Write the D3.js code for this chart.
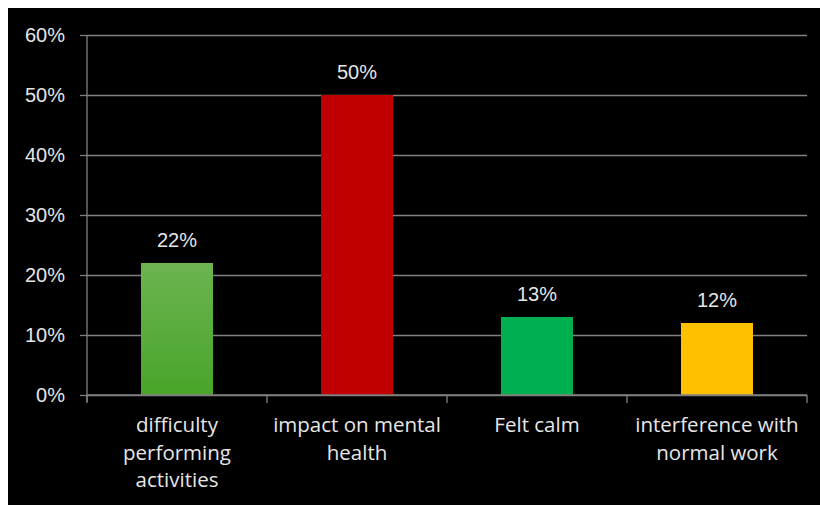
<!DOCTYPE html>
<html>
<head>
<meta charset="utf-8">
<script src="https://cdn.jsdelivr.net/npm/d3@7"></script>
<style>
  html, body { margin: 0; padding: 0; background: #ffffff; }
  svg { display: block; }
</style>
</head>
<body>
<svg id="chart" width="820" height="505"></svg>
<script>
// Survey results: share of respondents per reported effect
const categories = [
  "difficulty\nperforming\nactivities",
  "impact on mental\nhealth",
  "Felt calm",
  "interference with\nnormal work"
];
const values = [22, 50, 13, 12];
const barColors = ["url(#greenFade)", "#c00000", "#00b050", "#ffc000"];
const yTicks = [0, 10, 20, 30, 40, 50, 60];

const W = 820, H = 505;
const plot = { left: 87, right: 807, top: 35, bottom: 395 };
const textColor = "#e6e6e6";
const lineColor = "#808080";
const numFont = "'Liberation Sans', Arial, sans-serif";
const catFont = "'Open Sans', 'DejaVu Sans', sans-serif";

const svg = d3.select("#chart");

// dark panel
svg.append("rect").attr("x", 8).attr("y", 8).attr("width", W - 8).attr("height", H - 8).attr("fill", "#000");

const defs = svg.append("defs");
const grad = defs.append("linearGradient").attr("id", "greenFade")
  .attr("x1", 0).attr("y1", 0).attr("x2", 0).attr("y2", 1);
grad.append("stop").attr("offset", "0%").attr("stop-color", "#6cb451");
grad.append("stop").attr("offset", "100%").attr("stop-color", "#49a52a");

const x = d3.scaleBand().domain(categories).range([plot.left, plot.right]).paddingInner(0.6).paddingOuter(0.3);
const y = d3.scaleLinear().domain([0, 60]).range([plot.bottom, plot.top]);

// y axis with gridlines
const yAxis = svg.append("g").attr("transform", `translate(${plot.left},0)`)
  .call(d3.axisLeft(y).tickValues(yTicks).tickFormat(d => d + "%")
    .tickSize(-(plot.right - plot.left)).tickPadding(22));
yAxis.select(".domain").remove();
yAxis.selectAll(".tick line").attr("stroke", lineColor).attr("stroke-width", 1.3);
yAxis.selectAll(".tick").append("line")
  .attr("x1", -7).attr("x2", 0).attr("stroke", lineColor).attr("stroke-width", 1.3);
yAxis.selectAll("text").attr("fill", textColor).attr("font-family", numFont).attr("font-size", 20);

// vertical axis line
svg.append("line").attr("x1", plot.left).attr("x2", plot.left)
  .attr("y1", y(60)).attr("y2", plot.bottom + 7)
  .attr("stroke", lineColor).attr("stroke-width", 1.3);

// category boundary ticks on the x axis
const bounds = d3.range(categories.length + 1).map(i => plot.left + i * (plot.right - plot.left) / categories.length);
svg.append("g").selectAll("line").data(bounds).join("line")
  .attr("x1", d => d).attr("x2", d => d)
  .attr("y1", plot.bottom).attr("y2", plot.bottom + 8)
  .attr("stroke", lineColor).attr("stroke-width", 1.3);

// bars
svg.append("g").selectAll("rect").data(values).join("rect")
  .attr("x", (d, i) => x(categories[i]))
  .attr("width", x.bandwidth())
  .attr("y", d => y(d))
  .attr("height", d => y(0) - y(d))
  .attr("fill", (d, i) => barColors[i]);

// value labels
svg.append("g").selectAll("text").data(values).join("text")
  .attr("x", (d, i) => x(categories[i]) + x.bandwidth() / 2)
  .attr("y", d => y(d) - 16)
  .attr("text-anchor", "middle")
  .attr("fill", textColor).attr("font-family", numFont).attr("font-size", 20)
  .text(d => d + "%");

// category labels
const catG = svg.append("g").selectAll("text").data(categories).join("text")
  .attr("x", d => x(d) + x.bandwidth() / 2)
  .attr("y", 432)
  .attr("text-anchor", "middle")
  .attr("fill", textColor).attr("font-family", catFont).attr("font-size", 20.5);
catG.each(function(d) {
  const t = d3.select(this);
  d.split("\n").forEach((line, i) => {
    t.append("tspan").attr("x", x(d) + x.bandwidth() / 2).attr("dy", i === 0 ? 0 : 27.5).text(line);
  });
});

// horizontal axis line on top of the grid
svg.append("line").attr("x1", plot.left).attr("x2", plot.right)
  .attr("y1", plot.bottom).attr("y2", plot.bottom)
  .attr("stroke", lineColor).attr("stroke-width", 1.3);
</script>
</body>
</html>
